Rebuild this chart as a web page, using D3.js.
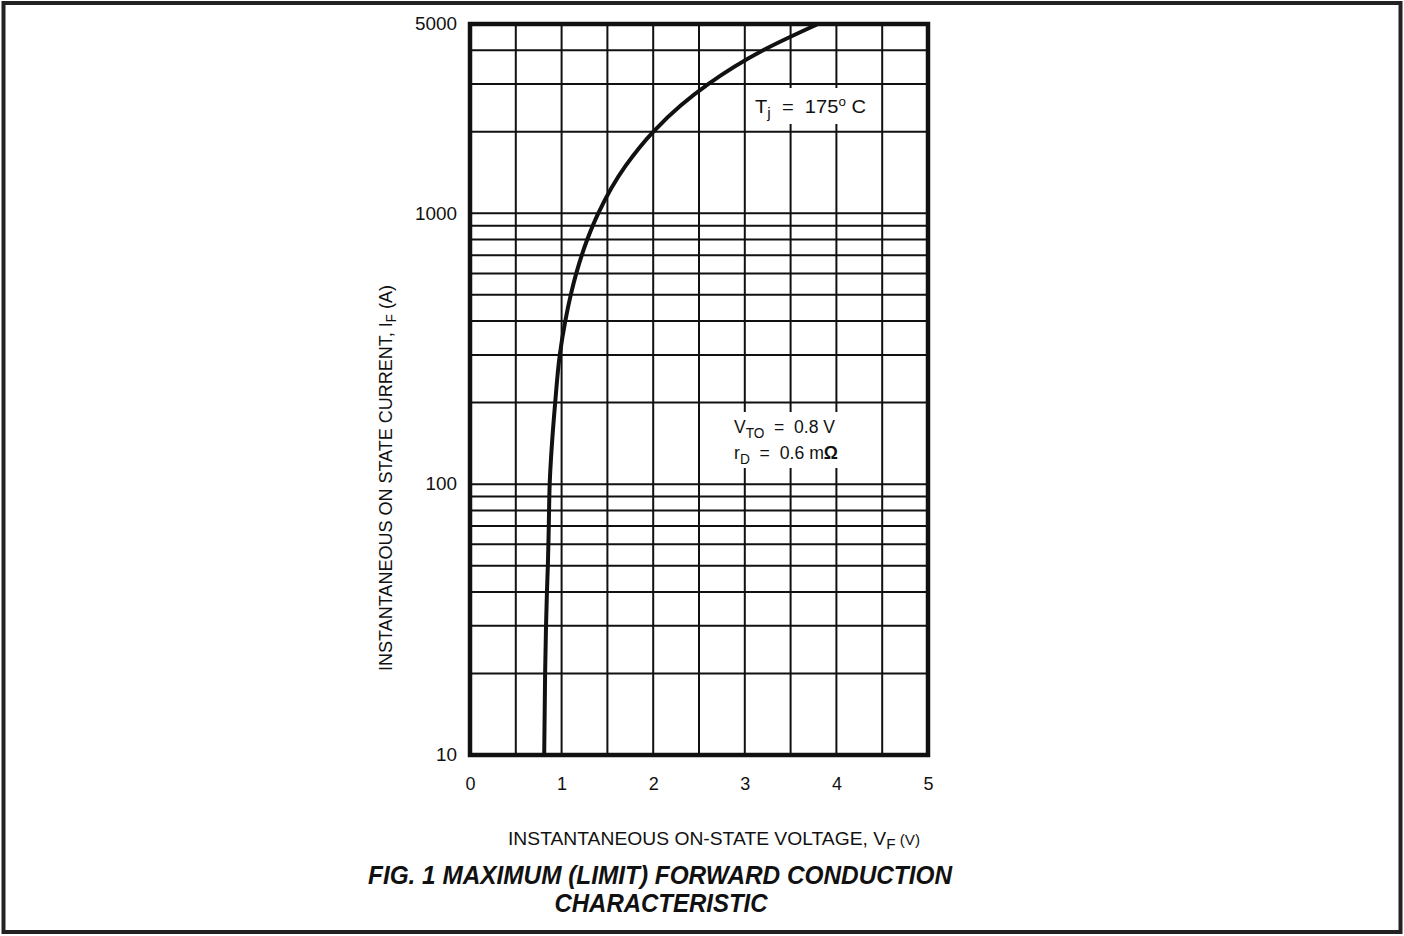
<!DOCTYPE html>
<html>
<head>
<meta charset="utf-8">
<script src="https://cdn.jsdelivr.net/npm/d3@7"></script>
<style>
  body { margin: 0; background: #fff; }
  svg { display: block; font-family: "Liberation Sans", Arial, sans-serif; }
  .note { white-space: pre; }
</style>
</head>
<body>
<svg id="chart" width="1404" height="936"></svg>
<script>
// data: forward voltage (V) vs current (A)
var voltage = [0.81, 0.82, 0.83, 0.84, 0.85, 0.86, 0.87, 0.93, 0.98, 1.04, 1.10, 1.16, 1.28, 1.40, 1.70, 2.00, 2.30, 2.60, 3.20, 3.80];
var current = [10, 20, 30, 40, 50, 70, 100, 200, 300, 400, 500, 600, 800, 1000, 1500, 2000, 2500, 3000, 4000, 5000];
var xTicks = [0, 1, 2, 3, 4, 5];
var xGrid = [0.5, 1, 1.5, 2, 2.5, 3, 3.5, 4, 4.5];
var yTicks = [10, 100, 1000, 5000];
var yGrid = [20, 30, 40, 50, 60, 70, 80, 90, 100, 200, 300, 400, 500, 600, 700, 800, 900, 1000, 2000, 3000, 4000];

var svg = d3.select("#chart");

// outer frame
svg.append("rect")
  .attr("x", 3.5).attr("y", 3).attr("width", 1397).attr("height", 929)
  .attr("fill", "none").attr("stroke", "#222").attr("stroke-width", 4);

var pLeft = 470, pRight = 928, pTop = 24, pBottom = 755;

var x = d3.scaleLinear().domain([0, 5]).range([pLeft, pRight]);
var y = d3.scaleLog().domain([10, 5000]).range([pBottom, pTop]);

// grid
svg.append("g").selectAll("line").data(xGrid).enter().append("line")
  .attr("x1", function (d) { return x(d); }).attr("x2", function (d) { return x(d); })
  .attr("y1", pTop).attr("y2", pBottom)
  .attr("stroke", "#111").attr("stroke-width", 2);

svg.append("g").selectAll("line").data(yGrid).enter().append("line")
  .attr("x1", pLeft).attr("x2", pRight)
  .attr("y1", function (d) { return y(d); }).attr("y2", function (d) { return y(d); })
  .attr("stroke", "#111").attr("stroke-width", 2);

// curve
var line = d3.line()
  .x(function (d, i) { return x(voltage[i]); })
  .y(function (d) { return y(d); })
  .curve(d3.curveMonotoneY);

svg.append("path")
  .datum(current)
  .attr("d", line)
  .attr("fill", "none").attr("stroke", "#111").attr("stroke-width", 4);

// annotation boxes
function note(bx, by, w, h) {
  svg.append("rect").attr("x", bx).attr("y", by).attr("width", w).attr("height", h).attr("fill", "#fff");
}
note(748, 88, 124, 36);
note(725, 412, 125, 56);

var t1 = svg.append("text").attr("class", "note").attr("x", 755).attr("y", 113).attr("font-size", 18).attr("fill", "#111")
  .attr("textLength", 111).attr("lengthAdjust", "spacingAndGlyphs");
t1.append("tspan").text("T");
t1.append("tspan").attr("dy", 5).attr("font-size", 14).text("j");
t1.append("tspan").attr("dy", -5).text("  =  175");
t1.append("tspan").attr("dy", -7).attr("font-size", 12).text("o");
t1.append("tspan").attr("dy", 7).text(" C");

var t2 = svg.append("text").attr("class", "note").attr("x", 734).attr("y", 433).attr("font-size", 18).attr("fill", "#111")
  .attr("textLength", 101).attr("lengthAdjust", "spacingAndGlyphs");
t2.append("tspan").text("V");
t2.append("tspan").attr("dy", 5).attr("font-size", 14).text("TO");
t2.append("tspan").attr("dy", -5).text("  =  0.8 V");

var t3 = svg.append("text").attr("class", "note").attr("x", 734).attr("y", 459).attr("font-size", 18).attr("fill", "#111")
  .attr("textLength", 104).attr("lengthAdjust", "spacingAndGlyphs");
t3.append("tspan").text("r");
t3.append("tspan").attr("dy", 5).attr("font-size", 14).text("D");
t3.append("tspan").attr("dy", -5).text("  =  0.6 m");
t3.append("tspan").attr("font-weight", "bold").text("Ω");

// plot border
svg.append("rect")
  .attr("x", pLeft).attr("y", pTop).attr("width", pRight - pLeft).attr("height", pBottom - pTop)
  .attr("fill", "none").attr("stroke", "#111").attr("stroke-width", 4.5);

// axes (tick labels only)
var xAxis = svg.append("g")
  .attr("transform", "translate(0," + pBottom + ")")
  .call(d3.axisBottom(x).tickValues(xTicks).tickSize(0).tickPadding(22).tickFormat(d3.format("d")));
xAxis.select(".domain").remove();
xAxis.selectAll("text").attr("font-size", 18).attr("fill", "#111").attr("font-family", "Liberation Sans, Arial, sans-serif");

var yAxis = svg.append("g")
  .attr("transform", "translate(" + pLeft + ",0)")
  .call(d3.axisLeft(y).tickValues(yTicks).tickSize(0).tickPadding(13).tickFormat(d3.format("d")));
yAxis.select(".domain").remove();
yAxis.selectAll("text").attr("font-size", 18).attr("fill", "#111").attr("font-family", "Liberation Sans, Arial, sans-serif")
  .attr("textLength", function (d) { return String(d).length * 10.5; }).attr("lengthAdjust", "spacingAndGlyphs");

// axis titles
var yt = svg.append("text")
  .attr("transform", "translate(392,478) rotate(-90)")
  .attr("text-anchor", "middle")
  .attr("font-size", 19).attr("fill", "#111")
  .attr("textLength", 386).attr("lengthAdjust", "spacingAndGlyphs");
yt.append("tspan").text("INSTANTANEOUS ON STATE CURRENT, I");
yt.append("tspan").attr("dy", 4).attr("font-size", 14).text("F");
yt.append("tspan").attr("dy", -4).text(" (A)");

var xt = svg.append("text")
  .attr("x", 714).attr("y", 845)
  .attr("text-anchor", "middle")
  .attr("font-size", 19).attr("fill", "#111")
  .attr("textLength", 412).attr("lengthAdjust", "spacingAndGlyphs");
xt.append("tspan").text("INSTANTANEOUS ON-STATE VOLTAGE, V");
xt.append("tspan").attr("dy", 4).attr("font-size", 15).text("F");
xt.append("tspan").attr("dy", -4).attr("font-size", 15).text(" (V)");

// caption
svg.append("text")
  .attr("x", 660).attr("y", 884).attr("text-anchor", "middle")
  .attr("font-size", 25).attr("font-weight", "bold").attr("font-style", "italic").attr("fill", "#111")
  .attr("textLength", 584).attr("lengthAdjust", "spacingAndGlyphs")
  .text("FIG. 1 MAXIMUM (LIMIT) FORWARD CONDUCTION");
svg.append("text")
  .attr("x", 661).attr("y", 912).attr("text-anchor", "middle")
  .attr("font-size", 25).attr("font-weight", "bold").attr("font-style", "italic").attr("fill", "#111")
  .attr("textLength", 213).attr("lengthAdjust", "spacingAndGlyphs")
  .text("CHARACTERISTIC");
</script>
</body>
</html>
